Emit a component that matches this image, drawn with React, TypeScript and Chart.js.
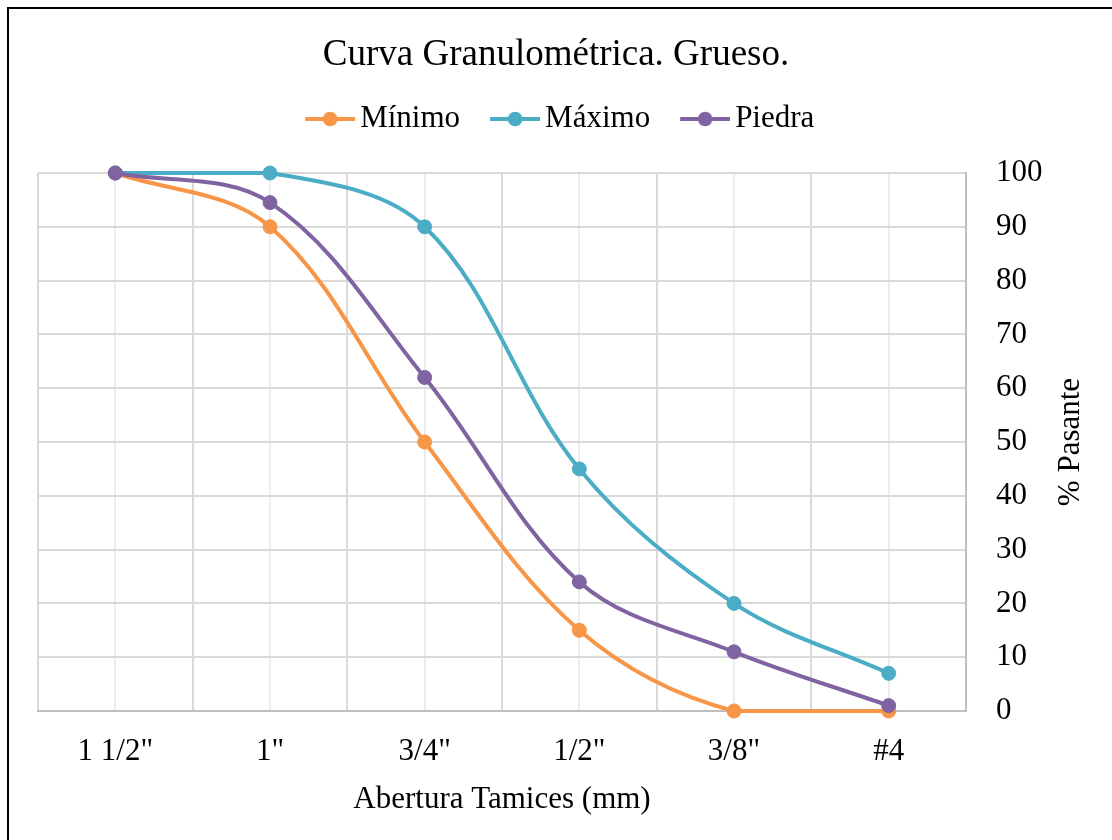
import React, { useEffect, useRef } from 'react';
import { Chart, registerables } from 'chart.js';

Chart.register(...registerables);

const categories = ['1 1/2"', '1"', '3/4"', '1/2"', '3/8"', '#4'];
const minimo = [100, 90, 50, 15, 0, 0];
const maximo = [100, 100, 90, 45, 20, 7];
const piedra = [100, 94.5, 62, 24, 11, 1];

const seriesNames = ['Mínimo', 'Máximo', 'Piedra'];
const seriesColors = ['#F79646', '#4BACC6', '#8064A2'];

const FONT = '"Liberation Serif", "Times New Roman", Times, serif';

// legend symbol: line with a marker, drawn at the right end of a wider transparent canvas
function legendSymbol(color: string) {
  const c = document.createElement('canvas');
  c.width = 68;
  c.height = 16;
  const ctx = c.getContext('2d')!;
  const x0 = 18;
  ctx.strokeStyle = color;
  ctx.lineWidth = 4;
  ctx.beginPath();
  ctx.moveTo(x0, 8);
  ctx.lineTo(x0 + 50, 8);
  ctx.stroke();
  ctx.fillStyle = color;
  ctx.beginPath();
  ctx.arc(x0 + 25, 8, 7.3, 0, Math.PI * 2);
  ctx.fill();
  return c;
}

const yTitlePlugin = {
  id: 'yTitle',
  afterDraw(chart: any) {
    const { ctx, chartArea } = chart;
    const ys = chart.scales.y;
    ctx.save();
    ctx.translate(ys.right - 41, (chartArea.top + chartArea.bottom) / 2);
    ctx.rotate(-Math.PI / 2);
    ctx.font = `31px ${FONT}`;
    ctx.fillStyle = '#000';
    ctx.textAlign = 'center';
    ctx.textBaseline = 'middle';
    ctx.fillText('% Pasante', 0, 0);
    ctx.restore();
  },
};

export default function App() {
  const ref = useRef<HTMLCanvasElement>(null);

  useEffect(() => {
    if (!ref.current) return;
    const values = [minimo, maximo, piedra];
    const orders = [3, 2, 1];
    const symbols = seriesColors.map(legendSymbol);
    const chart = new Chart(ref.current, {
      type: 'line',
      data: {
        datasets: values.map((vals, s) => ({
          label: seriesNames[s],
          data: vals.map((v, i) => ({ x: i + 1, y: v })),
          borderColor: seriesColors[s],
          backgroundColor: seriesColors[s],
          pointBackgroundColor: seriesColors[s],
          pointBorderColor: seriesColors[s],
          pointRadius: 7,
          pointBorderWidth: 1,
          borderWidth: 4,
          tension: 0.35,
          fill: false,
          clip: false as any,
          order: orders[s],
        })),
      },
      options: {
        animation: false,
        responsive: false,
        layout: { padding: { top: 33, left: 0, right: 0, bottom: 22 } },
        plugins: {
          title: {
            display: true,
            text: 'Curva Granulométrica. Grueso.',
            color: '#000',
            font: { family: FONT, size: 37, weight: 'normal', lineHeight: 1.2 },
            padding: { top: 0, bottom: 3.6 },
          },
          legend: {
            display: true,
            position: 'top',
            labels: {
              color: '#000',
              font: { family: FONT, size: 31 },
              usePointStyle: true,
              pointStyleWidth: 47,
              padding: 22.5,
              sort: (a: any, b: any) => a.datasetIndex - b.datasetIndex,
              generateLabels: (chart: any) => {
                const items = (Chart as any).defaults.plugins.legend.labels.generateLabels(chart);
                return items.map((it: any) => ({ ...it, pointStyle: symbols[it.datasetIndex] }));
              },
            },
          },
          subtitle: {
            display: true,
            text: '',
            weight: 500,
            font: { family: FONT, size: 28.5, lineHeight: 1 },
            padding: 0,
          } as any,
          tooltip: { enabled: false },
        },
        scales: {
          x: {
            type: 'linear',
            position: 'bottom',
            min: 0.5,
            max: 6.5,
            ticks: {
              stepSize: 0.5,
              autoSkip: false,
              maxRotation: 0,
              minRotation: 0,
              padding: 22.6,
              color: '#000',
              font: { family: FONT, size: 31 },
              callback: (v: any) => {
                const n = Number(v);
                return Number.isInteger(n) ? categories[n - 1] ?? '' : '';
              },
            },
            grid: {
              drawTicks: false,
              color: (ctx: any) =>
                ctx.tick && Number.isInteger(ctx.tick.value) ? '#ededed' : '#d9d9d9',
              lineWidth: 2,
            },
            border: { display: true, color: '#bfbfbf', width: 2 },
            title: {
              display: true,
              text: 'Abertura Tamices (mm)',
              color: '#000',
              font: { family: FONT, size: 31 },
              padding: { top: -12.6, bottom: 0 },
            },
          },
          y: {
            type: 'linear',
            position: 'right',
            min: 0,
            max: 100,
            ticks: {
              stepSize: 10,
              padding: 30,
              color: '#000',
              font: { family: FONT, size: 31 },
            },
            grid: { drawTicks: false, color: '#d9d9d9', lineWidth: 2 },
            border: { display: true, color: '#bfbfbf', width: 2 },
            afterFit: (s: any) => {
              s.width = 146;
            },
          },
          yl: {
            type: 'linear',
            position: 'left',
            display: true,
            ticks: { display: false },
            grid: { display: false, drawTicks: false },
            border: { display: false },
            afterFit: (s: any) => {
              s.width = 38;
            },
          },
        },
      } as any,
      plugins: [yTitlePlugin],
    });
    return () => chart.destroy();
  }, []);

  return (
    <div style={{ position: 'fixed', left: 0, top: 0, width: 1112, height: 840, background: '#fff' }}>
      <canvas ref={ref} width={1112} height={840} style={{ display: 'block' }} />
      <div
        style={{
          position: 'absolute',
          left: 7,
          top: 7,
          width: 1112 - 9,
          height: 840 - 9,
          borderTop: '2px solid #000',
          borderLeft: '2px solid #000',
          pointerEvents: 'none',
        }}
      />
    </div>
  );
}
